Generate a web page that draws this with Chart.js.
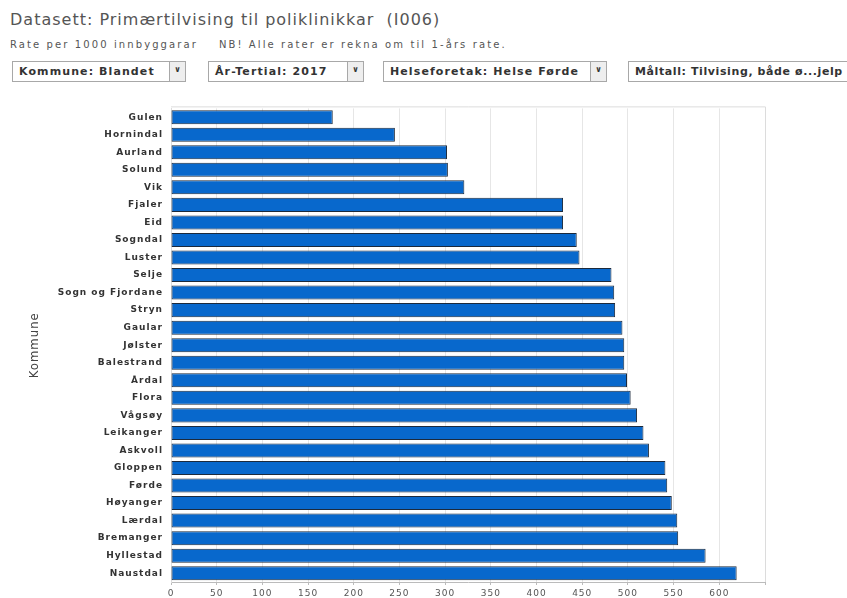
<!DOCTYPE html>
<html>
<head>
<meta charset="utf-8">
<script src="https://cdn.jsdelivr.net/npm/chart.js@4"></script>
<style>
  html, body { margin:0; padding:0; background:#fff; width:847px; height:598px; overflow:hidden; }
  body { position:relative; font-family:"DejaVu Sans", Verdana, sans-serif; }
  .title { position:absolute; left:10px; top:10px; font-size:16px; color:#555; letter-spacing:1px; white-space:nowrap; }
  .sub { position:absolute; left:10px; top:39px; font-size:10px; color:#555; letter-spacing:2.1px; white-space:nowrap; }
  .sub span { margin-left:21px; }
  .dd { position:absolute; top:61px; height:21px; border:1px solid #a8a8a8; background:#fff; box-sizing:border-box;
        font-size:11px; font-weight:bold; color:#333; letter-spacing:1.1px; line-height:19px; padding-left:6px; white-space:nowrap; overflow:hidden; }
  .dd .arr { position:absolute; right:0; top:0; width:15px; height:19px; border-left:1px solid #a8a8a8; background:#eee;
             font-size:8px; line-height:16px; text-align:center; color:#333; padding:0; letter-spacing:0; }
  #wrap { position:absolute; left:0; top:95px; width:847px; height:503px; }
</style>
</head>
<body>
<div class="title">Datasett: Primærtilvising til poliklinikkar&nbsp; (I006)</div>
<div class="sub">Rate per 1000 innbyggarar<span>NB! Alle rater er rekna om til 1-års rate.</span></div>
<div class="dd" style="left:12px;width:174px;">Kommune: Blandet<div class="arr">&#x2228;</div></div>
<div class="dd" style="left:208px;width:156px;">År-Tertial: 2017<div class="arr">&#x2228;</div></div>
<div class="dd" style="left:383px;width:224px;">Helseforetak: Helse Førde<div class="arr">&#x2228;</div></div>
<div class="dd" style="left:628px;width:240px;border-right:none;letter-spacing:0.6px;">Måltall: Tilvising, både ø...jelp</div>
<div id="wrap"><canvas id="chart"></canvas></div>
<script>
/* data */
const kommuner = ["Gulen","Hornindal","Aurland","Solund","Vik","Fjaler","Eid","Sogndal","Luster","Selje",
  "Sogn og Fjordane","Stryn","Gaular","Jølster","Balestrand","Årdal","Flora","Vågsøy","Leikanger","Askvoll",
  "Gloppen","Førde","Høyanger","Lærdal","Bremanger","Hyllestad","Naustdal"];
const rater = [177,245,302,303,321,429,429,444,447,482,
  485,486,494,496,496,499,503,510,517,523,
  541,543,548,554,555,585,619];
const xTicksMax = 650;

// letter-spaced tick text + light outline on top/right of the plot
const outline = {
  id:"outline",
  beforeDraw(c){ c.ctx.letterSpacing = "1px"; },
  afterDraw(c){
    const {left,right,top,bottom} = c.chartArea, ctx = c.ctx;
    ctx.save();
    ctx.letterSpacing = "0px";
    ctx.strokeStyle = "#dcdcdc"; ctx.lineWidth = 1;
    ctx.beginPath();
    ctx.moveTo(left, top-1.5); ctx.lineTo(right+0.5, top-1.5); ctx.lineTo(right+0.5, bottom);
    ctx.stroke();
    ctx.restore();
  }
};

new Chart(document.getElementById("chart"), {
  type:"bar",
  data:{
    labels:kommuner,
    datasets:[{
      data:rater,
      backgroundColor:"#0868cc",
      borderColor:"#1c2a3c",
      borderWidth:1,
      borderSkipped:false,
      categoryPercentage:0.8,
      barPercentage:1,
    }],
  },
  options:{
    indexAxis:"y",
    responsive:true, maintainAspectRatio:false, animation:false,
    layout:{ padding:{ left:0, right:82, top:8, bottom:0 } },
    plugins:{ legend:{display:false}, tooltip:{enabled:false} },
    scales:{
      x:{
        min:0, max:xTicksMax,
        ticks:{ stepSize:50, color:"#555", padding:3, font:{family:"DejaVu Sans", size:9},
                callback:v => v===xTicksMax ? "" : v },
        grid:{ color:"#e6e6e6", tickLength:3, tickColor:"#bbb" },
        border:{ color:"#bbb" },
        afterFit:s => { s.height = 16; },
      },
      y:{
        ticks:{ color:"#333", padding:8, autoSkip:false, font:{family:"DejaVu Sans", size:9, weight:"bold"} },
        grid:{ display:false, drawTicks:false },
        border:{ color:"#dcdcdc" },
        title:{ display:true, text:"Kommune", color:"#444", padding:{top:27},
                font:{family:"'Liberation Sans Narrow', 'DejaVu Sans Condensed', sans-serif", size:13} },
        afterFit:s => { s.width = 171; },
      },
    },
  },
  plugins:[outline],
});
</script>
</body>
</html>
